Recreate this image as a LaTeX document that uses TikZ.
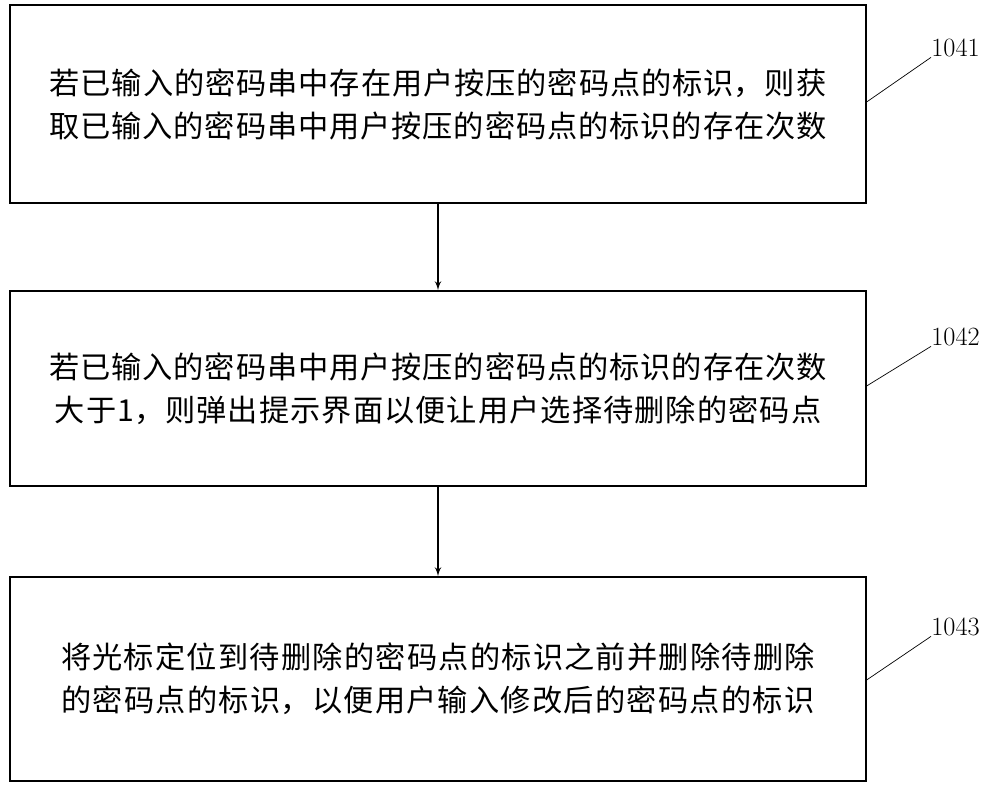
\documentclass[tikz,border=0pt]{standalone}
\usepackage{fontspec}
\newfontfamily\cjk{Noto Sans CJK SC}
\XeTeXlinebreaklocale "zh"
\XeTeXlinebreakskip=0pt plus 1pt
\usetikzlibrary{positioning, arrows}

\begin{document}
\begin{tikzpicture}[x=0.02cm, y=-0.02cm,
                % Define styles
                stepbox/.style={rectangle, draw, thick, minimum width=17.12cm, text width=16.8cm, align=center, font=\cjk\fontsize{17.2}{24.5}\selectfont},
                line/.style={draw, -latex', thick},
                tag/.style={font=\fontsize{15}{18}\selectfont, anchor=west, inner sep=0pt}
            ]
            \useasboundingbox (0,0) rectangle (1000,787);

            % --- Nodes ---
            \node [stepbox, minimum height=3.96cm] (first) at (438,104) {若已输入的密码串中存在用户按压的密码点的标识，则获取已输入的密码串中用户按压的密码点的标识的存在次数};
            \node [stepbox, minimum height=3.9cm] (second) at (438,388.5) {若已输入的密码串中用户按压的密码点的标识的存在次数大于1，则弹出提示界面以便让用户选择待删除的密码点};
            \node [stepbox, minimum height=4.08cm] (third) at (438,679) {将光标定位到待删除的密码点的标识之前并删除待删除的密码点的标识，以便用户输入修改后的密码点的标识};

            % --- Edges ---
            \path [line] (first) -- (second);
            \path [line] (second) -- (third);

            % --- Step numbers ---
            \node [tag] (n1) at (931,48) {1041};
            \node [tag] (n2) at (931,337) {1042};
            \node [tag] (n3) at (931,627) {1043};
            \draw (first.east |- 0,102) -- (n1.south west);
            \draw (second.east |- 0,386) -- (n2.south west);
            \draw (third.east |- 0,680) -- (n3.south west);
        \end{tikzpicture}
\end{document}
